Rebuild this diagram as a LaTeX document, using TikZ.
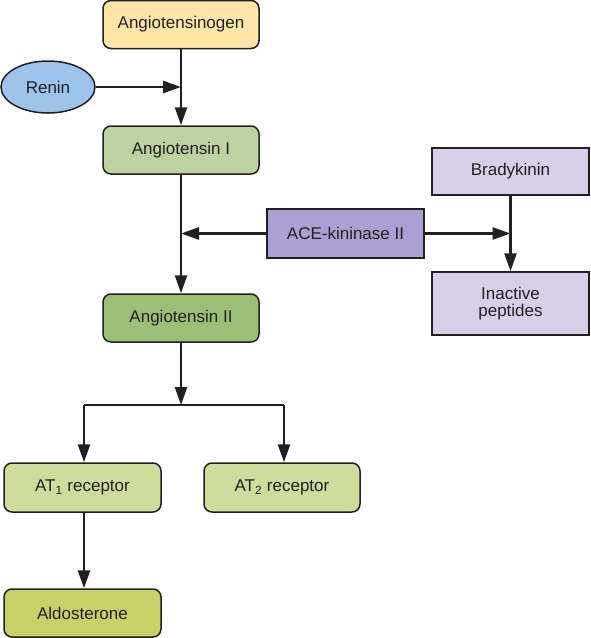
\documentclass[tikz,border=0pt]{standalone}
\usepackage{fontspec}
\setmainfont{Liberation Sans}
\usetikzlibrary{arrows.meta,shapes.geometric}
\definecolor{cYellow}{HTML}{FDE6A8}
\definecolor{cBlue}{HTML}{9CC4EC}
\definecolor{cGreenA}{HTML}{BCD2A0}
\definecolor{cGreenB}{HTML}{9CBF78}
\definecolor{cPurpleA}{HTML}{AC9FD2}
\definecolor{cPurpleB}{HTML}{D8D0EA}
\definecolor{cOlive}{HTML}{CEDC9C}
\definecolor{cOliveD}{HTML}{C8D068}
\definecolor{cEdge}{HTML}{231F20}
\tikzset{
  box/.style={draw=cEdge, line width=1.5pt, minimum width=156pt, minimum height=48pt,
    inner sep=0pt, font=\fontsize{17}{20}\selectfont, align=center, text=cEdge},
  rbox/.style={box, rounded corners=8pt},
  conn/.style={line width=2.5pt, draw=cEdge},
  arr/.style={conn, -{Triangle[length=18pt,width=12pt]}},
}
\begin{document}
\begin{tikzpicture}[x=1pt,y=-1pt]
\useasboundingbox (0,0) rectangle (590,638);
\node[rbox, fill=cYellow] (agen) at (181,24.5) {Angiotensinogen};
\node[ellipse, draw=cEdge, line width=1.5pt, fill=cBlue, minimum width=94pt, minimum height=52pt, inner sep=0pt, font=\fontsize{17}{20}\selectfont, text=cEdge] (renin) at (48,87) {Renin};
\node[rbox, fill=cGreenA] (ang1) at (181,150) {Angiotensin I};
\node[box, fill=cPurpleA, minimum width=157pt, minimum height=49pt] (ace) at (345.5,233.5) {ACE-kininase II};
\node[rbox, fill=cGreenB] (ang2) at (181,318) {Angiotensin II};
\node[box, fill=cPurpleB, minimum width=157pt, minimum height=47pt] (brady) at (510.5,171.5) {Bradykinin};
\node[box, fill=cPurpleB, minimum width=157pt, minimum height=63pt] (inact) at (510.5,303.5) {Inactive\\[-3pt]peptides};
\node[rbox, fill=cOlive, minimum width=157pt, minimum height=49pt] (at1) at (82.5,487.5) {AT$_{\mathrm{1}}$ receptor};
\node[rbox, fill=cOlive, minimum height=49pt] (at2) at (282,487.5) {AT$_{\mathrm{2}}$ receptor};
\node[rbox, fill=cOliveD, minimum width=157pt] (aldo) at (82.5,613) {Aldosterone};
\coordinate (jr) at (181,87);
\coordinate (jl) at (181,233.5);
\coordinate (jb) at (181,405);
\coordinate (ja) at (84,405);
\coordinate (jc) at (284,405);
\coordinate (jx) at (510.5,233.5);
\draw[arr] (agen.south) -- (ang1.north);
\draw[arr] (renin.east) -- (jr);
\draw[arr] (ang1.south) -- (ang2.north);
\draw[arr] (ace.west) -- (jl);
\draw[arr] (ace.east) -- (jx);
\draw[arr] (brady.south) -- (inact.north);
\draw[arr] (ang2.south) -- (jb);
\draw[conn] (ja) -- (jc);
\draw[arr] (ja) -- (at1.north -| ja);
\draw[arr] (jc) -- (at2.north -| jc);
\draw[arr] (at1.south -| ja) -- (aldo.north -| ja);
\end{tikzpicture}
\end{document}
